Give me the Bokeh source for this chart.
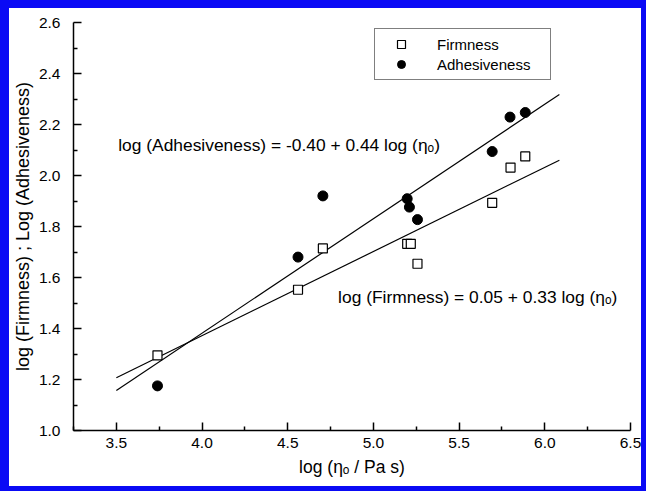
from bokeh.plotting import figure
from bokeh.layouts import column
from bokeh.models import (FixedTicker, PrintfTickFormatter, Label, Legend, LegendItem,
                          Range1d)
from bokeh.embed import file_html
from bokeh.resources import INLINE

# ---- data ----
firm_x = [3.74, 4.56, 4.705, 5.197, 5.218, 5.257, 5.693, 5.80, 5.886]
firmness = [1.295, 1.552, 1.714, 1.732, 1.732, 1.654, 1.893, 2.031, 2.075]
adh_x = [3.74, 4.56, 4.705, 5.197, 5.21, 5.257, 5.693, 5.797, 5.886]
adhesiveness = [1.175, 1.68, 1.92, 1.909, 1.876, 1.827, 2.094, 2.229, 2.247]

fit_x = [3.5, 6.085]
firm_fit = [1.207, 2.06]
adh_fit = [1.157, 2.318]

x_ticks = [3.5, 4.0, 4.5, 5.0, 5.5, 6.0, 6.5]
x_minor = [3.25, 3.75, 4.25, 4.75, 5.25, 5.75, 6.25]
y_ticks = [1.0, 1.2, 1.4, 1.6, 1.8, 2.0, 2.2, 2.4, 2.6]
y_minor = [1.1, 1.3, 1.5, 1.7, 1.9, 2.1, 2.3, 2.5]

x_title = "log (\u03b7\u2092 / Pa s)"
y_title = "log (Firmness) ; Log (Adhesiveness)"
adh_eq = "log (Adhesiveness) = -0.40 + 0.44 log (\u03b7\u2092)"
firm_eq = "log (Firmness) = 0.05 + 0.33 log (\u03b7\u2092)"

FONT = "Liberation Sans"
BLUE = "#0a0af5"
PAD_L, PAD_R, PAD_T, PAD_B = 9, 5, 8, 5
W, H = 646 - PAD_L - PAD_R, 491 - PAD_T - PAD_B

p = figure(width=W, height=H, output_backend="svg", toolbar_location=None,
           x_range=Range1d(3.25, 6.5), y_range=Range1d(1.0, 2.6),
           min_border_left=70 - PAD_L, min_border_right=W - (630 - PAD_L),
           min_border_top=22 - PAD_T, min_border_bottom=H - (430 - PAD_T),
           x_axis_label=x_title, y_axis_label=y_title)
p.grid.visible = False
p.outline_line_color = None
p.background_fill_color = "white"
p.border_fill_color = "white"
p.styles = {"background-color": "white"}

p.xaxis.ticker = FixedTicker(ticks=x_ticks, minor_ticks=x_minor)
p.yaxis.ticker = FixedTicker(ticks=y_ticks, minor_ticks=y_minor)
p.xaxis.formatter = PrintfTickFormatter(format="%.1f")
p.yaxis.formatter = PrintfTickFormatter(format="%.1f")

for ax in (p.xaxis[0], p.yaxis[0]):
    ax.major_tick_in = 8
    ax.major_tick_out = 0
    ax.minor_tick_in = 4
    ax.minor_tick_out = 0
    ax.axis_line_width = 1.5
    ax.major_tick_line_width = 1.5
    ax.minor_tick_line_width = 1.5
    ax.axis_line_color = "black"
    ax.major_tick_line_color = "black"
    ax.minor_tick_line_color = "black"
    ax.major_label_text_font = FONT
    ax.major_label_text_font_size = "15.5px"
    ax.major_label_text_color = "black"
    ax.axis_label_text_font = FONT
    ax.axis_label_text_font_size = "17.5px"
    ax.axis_label_text_font_style = "normal"
    ax.axis_label_text_color = "black"
p.yaxis[0].axis_label_text_font_size = "18px"
p.xaxis[0].major_label_standoff = 7
p.yaxis[0].major_label_standoff = 13
p.xaxis[0].axis_label_standoff = 6
p.yaxis[0].axis_label_standoff = 3

p.line(fit_x, adh_fit, line_color="black", line_width=1.2)
p.line(fit_x, firm_fit, line_color="black", line_width=1.2)

sq = p.scatter(firm_x, firmness, marker="square", size=9, fill_color="white",
               line_color="black", line_width=1.2)
ci = p.scatter(adh_x, adhesiveness, marker="circle", size=10, fill_color="black",
               line_color="black")

p.add_layout(Label(x=3.511, y=2.118, text=adh_eq, text_font=FONT, text_font_size="17.4px",
                   text_baseline="middle", text_color="black"))
p.add_layout(Label(x=4.794, y=1.525, text=firm_eq, text_font=FONT, text_font_size="17.4px",
                   text_baseline="middle", text_color="black"))

legend = Legend(items=[LegendItem(label="Firmness", renderers=[sq]),
                       LegendItem(label="Adhesiveness", renderers=[ci])],
                location=(301, 350), padding=5, spacing=0, margin=0,
                glyph_height=20, glyph_width=42, label_standoff=15, label_width=108,
                label_height=20,
                label_text_font=FONT, label_text_font_size="15px", label_text_color="black",
                border_line_color="black", border_line_width=1,
                background_fill_color="white", background_fill_alpha=1.0)
p.add_layout(legend)

# blue picture frame round the whole image
page = column(p, styles={"background-color": BLUE,
                         "padding": f"{PAD_T}px {PAD_R}px {PAD_B}px {PAD_L}px"})

open("out.html", "w").write(file_html(page, INLINE))
